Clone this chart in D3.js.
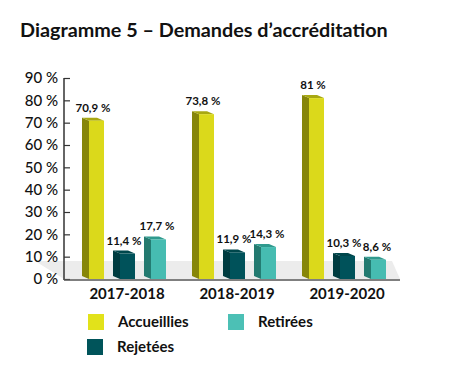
<!DOCTYPE html>
<html><head><meta charset="utf-8">
<script src="https://cdn.jsdelivr.net/npm/d3@7"></script>
<style>body{margin:0;background:#fff;}svg{display:block;font-family:Lato,"Open Sans",sans-serif;}</style>
</head><body>
<svg id="c" width="457" height="391"></svg>
<script>
const title = "Diagramme 5 – Demandes d’accréditation";
const categories = ["2017-2018", "2018-2019", "2019-2020"];
const series = ["Accueillies", "Rejetées", "Retirées"];
const accueillies = [70.9, 73.8, 81];
const rejetees = [11.4, 11.9, 10.3];
const retirees = [17.7, 14.3, 8.6];
const yTicks = [0, 10, 20, 30, 40, 50, 60, 70, 80, 90];

const values = {"Accueillies": accueillies, "Rejetées": rejetees, "Retirées": retirees};
const colors = {
  "Accueillies": {front: "#dbd91b", side: "#86860a", top: "#a8a812", legend: "#e2e21a"},
  "Rejetées": {front: "#00525a", side: "#003c40", top: "#00474c", legend: "#00545a"},
  "Retirées": {front: "#46bcb1", side: "#237a70", top: "#2f9a8e", legend: "#4cc0b5"}
};

const svg = d3.select("#c");
const y = d3.scaleLinear().domain([0, 90]).range([279, 78]);
const xG = d3.scaleBand().domain(categories).range([70, 400]);
const xS = d3.scaleBand().domain(series).range([12, 96]).paddingInner(0.29).paddingOuter(0);
const sideW = 7, depth = 3;

svg.append("text").attr("x", 20).attr("y", 37).attr("font-size", 19.8).attr("font-weight", 700)
  .attr("fill", "#111").text(title);

// floor
svg.append("polygon").attr("points", "35,261 392,261 400,279 64,279").attr("fill", "#ececec");

// axis
const axisX = 64;
const yAxis = d3.axisLeft(y).tickValues(yTicks).tickSize(-6).tickPadding(6).tickFormat(d => d + " %");
const gA = svg.append("g").attr("transform", `translate(${axisX},0)`).call(yAxis);
gA.select(".domain").remove();
gA.selectAll(".tick line").attr("stroke", "#333").attr("stroke-width", 1.2);
gA.selectAll(".tick text").attr("font-size", 15).attr("font-weight", 500).attr("fill", "#111")
  .attr("font-family", "Lato, sans-serif");
svg.append("line").attr("x1", axisX).attr("x2", axisX).attr("y1", y(90)).attr("y2", 280)
  .attr("stroke", "#333").attr("stroke-width", 1.5);
svg.append("line").attr("x1", axisX).attr("x2", 400).attr("y1", 280).attr("y2", 280)
  .attr("stroke", "#555").attr("stroke-width", 1.5);

// bars
const fmt = v => String(v).replace(".", ",") + " %";
categories.forEach((cat, i) => {
  const g = svg.append("g").attr("transform", `translate(${xG(cat)},0)`);
  series.forEach(s => {
    const v = values[s][i];
    const x0 = xS(s), w = xS.bandwidth();
    const yt = y(v), yb = y(0);
    const c = colors[s];
    g.append("polygon").attr("points",
      `${x0},${yt - depth} ${x0 + sideW},${yt} ${x0 + sideW},${yb} ${x0},${yb - depth}`).attr("fill", c.side);
    g.append("polygon").attr("points",
      `${x0},${yt - depth} ${x0 + w - sideW},${yt - depth} ${x0 + w},${yt} ${x0 + sideW},${yt}`).attr("fill", c.top);
    g.append("rect").attr("x", x0 + sideW).attr("y", yt).attr("width", w - sideW).attr("height", yb - yt).attr("fill", c.front);
    g.append("text").attr("x", x0 + w / 2 + (s === "Retirées" ? 2 : 0)).attr("y", yt - 9).attr("text-anchor", "middle")
      .attr("font-size", 11.5).attr("font-weight", 700).attr("fill", "#111").text(fmt(v));
  });
  svg.append("text").attr("x", xG(cat) + xG.bandwidth() / 2 + 2).attr("y", 299).attr("text-anchor", "middle")
    .attr("font-size", 15).attr("font-weight", 700).attr("fill", "#111").text(cat);
});

// legend
const legendPos = [
  {s: "Accueillies", x: 88, y: 314},
  {s: "Retirées", x: 228, y: 314},
  {s: "Rejetées", x: 87, y: 339}
];
legendPos.forEach(p => {
  svg.append("rect").attr("x", p.x).attr("y", p.y).attr("width", 16).attr("height", 16).attr("fill", colors[p.s].legend);
  svg.append("text").attr("x", p.x + 30).attr("y", p.y + 13).attr("font-size", 15).attr("font-weight", 700)
    .attr("fill", "#111").text(p.s);
});
</script>
</body></html>
